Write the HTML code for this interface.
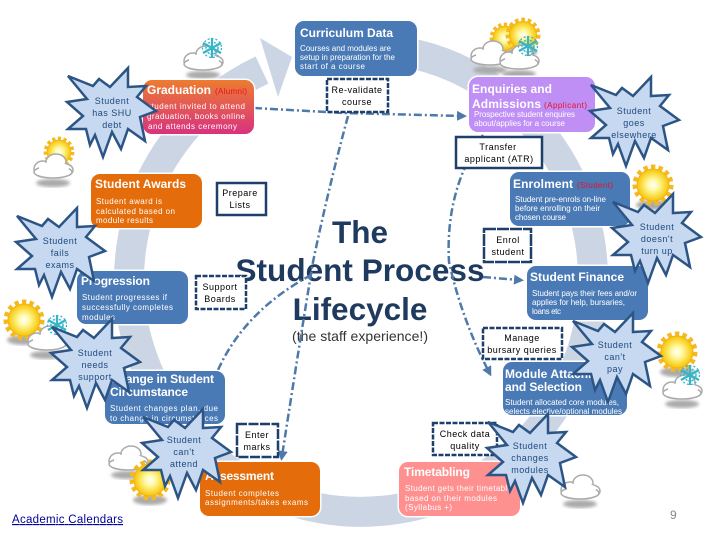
<!DOCTYPE html>
<html><head><meta charset="utf-8">
<style>
html,body{margin:0;padding:0;background:#fff}
svg{display:block}
text{font-family:"Liberation Sans",sans-serif}
.t{font-weight:bold;fill:#fff;font-size:12px}
.b{fill:#fff;font-size:8px}
.r{fill:#e8102a;font-size:8px}
.k{fill:#000;font-size:9px;text-anchor:middle;letter-spacing:.5px}
.s{fill:#1f497d;font-size:9px;text-anchor:middle;letter-spacing:.5px}
.h{font-size:31.5px;font-weight:bold;fill:#1f3a5f;text-anchor:middle}
</style></head><body>
<svg width="720" height="540" viewBox="0 0 720 540" xmlns="http://www.w3.org/2000/svg">
<defs>
<linearGradient id="g" x1="0" y1="0" x2="0" y2="1"><stop offset="0" stop-color="#ec7c30"/><stop offset="1" stop-color="#d9327e"/></linearGradient>
<radialGradient id="su"><stop offset="0" stop-color="#fff"/><stop offset=".35" stop-color="#fff9a0"/><stop offset="1" stop-color="#f7c500"/></radialGradient>
<filter id="bl"><feGaussianBlur stdDeviation="1.5"/></filter>
<polygon id="star" points="-44,-37 -19,-27 -13,-34 -2,-26 16,-45 16,-26 34,-27 25,-16 44,-2 28,4 33,28 16,16 9,36 0,19 -9,44 -17,22 -22,32 -26,16 -44,16 -29,3 -45,-11 -25,-14" fill="#c6d9f1" stroke="#2c5585" stroke-width="2.5"/>
<g id="sun"><ellipse cx="0" cy="20" rx="17" ry="5" fill="#aaa" filter="url(#bl)"/><circle r="17" fill="none" stroke="#f5b81f" stroke-width="7" stroke-dasharray="4 3.1"/><circle r="16" fill="url(#su)" stroke="#f2b01a"/></g>
<g id="cloud"><ellipse cx="0" cy="17" rx="17" ry="4" fill="#aaa" filter="url(#bl)"/>
<g fill="#fff" stroke="#aaa" stroke-width="1.5"><ellipse cx="-10" cy="3" rx="9" ry="8"/><ellipse cx="3" cy="-4" rx="10" ry="8"/><ellipse cx="12" cy="4" rx="8" ry="6"/><ellipse cx="0" cy="6" rx="19" ry="6"/></g>
<ellipse cx="1" cy="2" rx="15" ry="6" fill="#fff"/></g>
<g id="snow" stroke="#35b5c8" stroke-width="2.2" fill="none"><path d="M0-10V10M-9-5 9 5M-9 5 9-5"/><circle r="6" stroke-width="1.5" stroke-dasharray="2 1"/><circle r="9.5" stroke-width="1.3" stroke-dasharray="2 2"/></g>
<marker id="ar" markerWidth="4" markerHeight="4" refX="2" refY="2" orient="auto"><path d="M0 0L4 2 0 4z" fill="#4f79a8"/></marker>
</defs>

<!-- ring -->
<path d="M405 52A232 232 0 1 1 262 70" fill="none" stroke="#ccd5e4" stroke-width="30"/>
<polygon points="260,38 292,57 278,97" fill="#ccd5e4"/>

<!-- title -->
<text class="h" x="360" y="243">The</text>
<text class="h" x="360" y="281" textLength="249">Student Process</text>
<text class="h" x="360" y="320">Lifecycle</text>
<text x="360" y="341" font-size="14" fill="#333" text-anchor="middle" textLength="136">(the staff experience!)</text>

<!-- connectors -->
<g fill="none" stroke="#4f79a8" stroke-width="2.5" stroke-dasharray="8 3 2 3">
<path d="M254 108L345 113 462 116" marker-end="url(#ar)"/>
<path d="M348 116Q328 190 313 262Q300 340 282 456" marker-end="url(#ar)"/>
<path d="M218 370Q245 310 313 274"/>
<path d="M483 135Q445 190 449 262Q462 320 489 372" marker-end="url(#ar)"/>
<path d="M483 277L519 280" marker-end="url(#ar)"/>
</g>

<!-- weather -->
<use href="#cloud" x="203" y="58"/><use href="#snow" x="212" y="48"/>
<use href="#sun" transform="translate(59 152) scale(.75)"/><use href="#cloud" x="53" y="166"/>
<use href="#sun" transform="translate(505 38) scale(.75)"/><use href="#sun" transform="translate(523 35) scale(.85)"/>
<use href="#cloud" x="490" y="53"/><use href="#cloud" x="519" y="57"/><use href="#snow" x="528" y="46"/>
<use href="#sun" x="653" y="185"/>
<use href="#sun" x="24" y="320"/><use href="#cloud" x="47" y="338"/><use href="#snow" x="57" y="325"/>
<use href="#cloud" x="128" y="458"/><use href="#sun" x="150" y="480"/>
<use href="#sun" x="677" y="352"/><use href="#cloud" x="682" y="387"/><use href="#snow" x="690" y="375"/>
<use href="#cloud" x="580" y="487"/>

<!-- boxes -->
<g stroke="#fff" stroke-width="3" paint-order="stroke">
<rect x="295" y="21" width="122" height="55" rx="9" fill="#4a7ab5"/>
<rect x="143" y="80" width="111" height="54" rx="9" fill="url(#g)"/>
<rect x="469" y="77" width="126" height="55" rx="9" fill="#bf8ff5"/>
<rect x="510" y="172" width="120" height="54" rx="9" fill="#4a7ab5"/>
<rect x="527" y="266" width="121" height="54" rx="9" fill="#4a7ab5"/>
<rect x="503" y="362" width="124" height="53" rx="9" fill="#4a7ab5"/>
<rect x="399" y="462" width="121" height="54" rx="9" fill="#ff9090"/>
<rect x="200" y="462" width="120" height="54" rx="9" fill="#e46c0a"/>
<rect x="105" y="371" width="120" height="53" rx="9" fill="#4a7ab5"/>
<rect x="77" y="271" width="111" height="53" rx="9" fill="#4a7ab5"/>
<rect x="91" y="174" width="111" height="54" rx="9" fill="#e46c0a"/>
</g>

<!-- box text -->
<text class="t" x="300" y="37" textLength="93">Curriculum Data</text>
<text class="b" x="300" y="51" textLength="91">Courses and modules are</text>
<text class="b" x="300" y="60" textLength="95">setup in preparation for the</text>
<text class="b" x="300" y="69" textLength="65">start of a course</text>

<text class="t" x="147" y="94" textLength="64">Graduation</text><text class="r" x="215" y="94" textLength="32">(Alumni)</text>
<text class="b" x="147" y="109" textLength="98">student invited to attend</text>
<text class="b" x="147" y="119" textLength="98">graduation, books online</text>
<text class="b" x="148" y="129" textLength="89">and attends ceremony</text>

<text class="t" x="472" y="93" textLength="80">Enquiries and</text>
<text class="t" x="472" y="108" textLength="69">Admissions</text><text class="r" x="544" y="108" textLength="43">(Applicant)</text>
<text class="b" x="474" y="117" textLength="101">Prospective student enquires</text>
<text class="b" x="474" y="126" textLength="91">about/applies for a course</text>

<text class="t" x="513" y="188" textLength="60">Enrolment</text><text class="r" x="577" y="188" textLength="36">(Student)</text>
<text class="b" x="515" y="202" textLength="91">Student pre-enrols on-line</text>
<text class="b" x="515" y="211" textLength="85">before enrolling on their</text>
<text class="b" x="515" y="220" textLength="51">chosen course</text>

<text class="t" x="530" y="281" textLength="94">Student Finance</text>
<text class="b" x="532" y="296" textLength="105">Student pays their fees and/or</text>
<text class="b" x="532" y="305" textLength="93">applies for help, bursaries,</text>
<text class="b" x="532" y="314" textLength="29">loans etc</text>

<text class="t" x="505" y="378" textLength="112">Module Attachment</text>
<text class="t" x="505" y="391" textLength="77">and Selection</text>
<text class="b" x="505" y="405" textLength="114">Student allocated core modules,</text>
<text class="b" x="505" y="414" textLength="117">selects elective/optional modules</text>

<text class="t" x="404" y="476" textLength="66">Timetabling</text>
<text class="b" x="405" y="491" textLength="107">Student gets their timetable</text>
<text class="b" x="405" y="501" textLength="92">based on their modules</text>
<text class="b" x="405" y="510" textLength="47">(Syllabus +)</text>

<text class="t" x="205" y="480" textLength="69">Assessment</text>
<text class="b" x="205" y="496" textLength="74">Student completes</text>
<text class="b" x="205" y="505" textLength="103">assignments/takes exams</text>

<text class="t" x="110" y="383" textLength="104">Change in Student</text>
<text class="t" x="110" y="396" textLength="78">Circumstance</text>
<text class="b" x="110" y="411" textLength="108">Student changes plan, due</text>
<text class="b" x="110" y="421" textLength="108">to change in circumstances</text>

<text class="t" x="81" y="285" textLength="69">Progression</text>
<text class="b" x="82" y="300" textLength="85">Student progresses if</text>
<text class="b" x="82" y="310" textLength="91">successfully completes</text>
<text class="b" x="82" y="320" textLength="33">modules</text>

<text class="t" x="95" y="188" textLength="91">Student Awards</text>
<text class="b" x="96" y="204" textLength="66">Student award is</text>
<text class="b" x="96" y="214" textLength="79">calculated based on</text>
<text class="b" x="96" y="223" textLength="57">module results</text>

<!-- task boxes -->
<g fill="#fff" stroke="#1f3f6b" stroke-width="2.5">
<rect x="327" y="79" width="61" height="33" stroke-dasharray="5 1.5"/>
<rect x="217" y="183" width="49" height="32"/>
<rect x="456" y="137" width="86" height="31"/>
<rect x="484" y="229" width="47" height="33" stroke-dasharray="12 1"/>
<rect x="196" y="276" width="50" height="33" stroke-dasharray="5 1.5"/>
<rect x="237" y="424" width="41" height="33" stroke-dasharray="10 1.5"/>
<rect x="483" y="328" width="79" height="31" stroke-dasharray="5 1.5"/>
<rect x="433" y="423" width="64" height="32" stroke-dasharray="5 1.5"/>
</g>
<text class="k" x="357" y="93">Re-validate</text><text class="k" x="357" y="105">course</text>
<text class="k" x="240" y="196">Prepare</text><text class="k" x="240" y="208">Lists</text>
<text class="k" x="498" y="150">Transfer</text><text class="k" x="499" y="162">applicant (ATR)</text>
<text class="k" x="508" y="243">Enrol</text><text class="k" x="508" y="255">student</text>
<text class="k" x="220" y="290">Support</text><text class="k" x="220" y="302">Boards</text>
<text class="k" x="257" y="438">Enter</text><text class="k" x="257" y="450">marks</text>
<text class="k" x="522" y="341">Manage</text><text class="k" x="522" y="353">bursary queries</text>
<text class="k" x="465" y="437">Check data</text><text class="k" x="465" y="449">quality</text>

<!-- stars -->
<use href="#star" x="112" y="113"/>
<use href="#star" x="61" y="253"/>
<use href="#star" x="635" y="122"/>
<use href="#star" x="657" y="239"/>
<use href="#star" x="617" y="358"/>
<use href="#star" x="532" y="459"/>
<use href="#star" x="187" y="454"/>
<use href="#star" x="96" y="364"/>

<text class="s" x="112" y="104">Student</text><text class="s" x="112" y="116">has SHU</text><text class="s" x="112" y="128">debt</text>
<text class="s" x="60" y="244">Student</text><text class="s" x="60" y="256">fails</text><text class="s" x="60" y="268">exams</text>
<text class="s" x="634" y="114">Student</text><text class="s" x="634" y="126">goes</text><text class="s" x="634" y="138">elsewhere</text>
<text class="s" x="657" y="230">Student</text><text class="s" x="657" y="242">doesn't</text><text class="s" x="657" y="254">turn up</text>
<text class="s" x="615" y="348">Student</text><text class="s" x="615" y="360">can't</text><text class="s" x="615" y="372">pay</text>
<text class="s" x="530" y="449">Student</text><text class="s" x="530" y="461">changes</text><text class="s" x="530" y="473">modules</text>
<text class="s" x="184" y="443">Student</text><text class="s" x="184" y="455">can't</text><text class="s" x="184" y="467">attend</text>
<text class="s" x="95" y="356">Student</text><text class="s" x="95" y="368">needs</text><text class="s" x="95" y="380">support</text>

<text x="12" y="523" font-size="11.5" fill="#00009c" text-decoration="underline" textLength="111">Academic Calendars</text>
<text x="670" y="519" font-size="12" fill="#888">9</text>
</svg>
</body></html>
